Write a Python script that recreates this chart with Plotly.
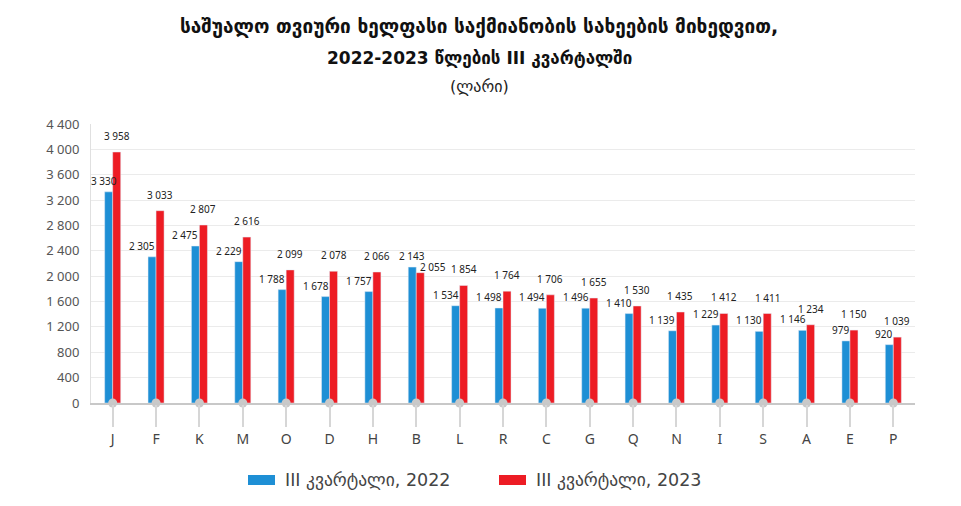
import plotly.graph_objects as go

categories = ["J", "F", "K", "M", "O", "D", "H", "B", "L", "R", "C", "G", "Q", "N", "I", "S", "A", "E", "P"]
values_2022 = [3330, 2305, 2475, 2229, 1788, 1678, 1757, 2143, 1534, 1498, 1494, 1496, 1410, 1139, 1229, 1130, 1146, 979, 920]
values_2023 = [3958, 3033, 2807, 2616, 2099, 2078, 2066, 2055, 1854, 1764, 1706, 1655, 1530, 1435, 1412, 1411, 1234, 1150, 1039]
y_ticks = [0, 400, 800, 1200, 1600, 2000, 2400, 2800, 3200, 3600, 4000, 4400]
series_names = ["III კვარტალი, 2022", "III კვარტალი, 2023"]
title_lines = ["საშუალო თვიური ხელფასი საქმიანობის სახეების მიხედვით,",
               "2022-2023 წლების III კვარტალში", "(ლარი)"]

BLUE = "#1e8fd5"
RED = "#ed1c24"
GRAY = "#c9c9c9"
OFF = 8  # page body margin
W, H = 961 - OFF, 506 - OFF
ML, MR, MT, MB = 91 - OFF, 46, 124 - OFF, 103
PW, PH = W - ML - MR, H - MT - MB


def px(x):
    return (x - OFF - ML) / PW


def py(y):
    return (H - MB - (y - OFF)) / PH


def fmt(v):
    return f"{v:,}".replace(",", " ")


fig = go.Figure()
fig.add_trace(go.Bar(x=categories, y=values_2022, name=series_names[0], marker_color=BLUE,
                     showlegend=False))
fig.add_trace(go.Bar(x=categories, y=values_2023, name=series_names[1], marker_color=RED,
                     showlegend=False))
# gray circles at baseline
fig.add_trace(go.Scatter(x=categories, y=[0] * len(categories), mode="markers",
                         marker=dict(color=GRAY, size=9), cliponaxis=False,
                         showlegend=False, hoverinfo="skip"))
# short horizontal dashes below ticks
fig.add_trace(go.Scatter(x=categories, y=[-345] * len(categories), mode="markers",
                         marker=dict(symbol="line-ew-open", size=25,
                                     line=dict(color="#d6d6d6", width=1.5)),
                         cliponaxis=False, showlegend=False, hoverinfo="skip"))

annotations = []
for i, c in enumerate(categories):
    b, r = values_2022[i], values_2023[i]
    if b > r:
        annotations.append(dict(x=c, y=b, xref="x", yref="y", text=fmt(b), showarrow=False,
                                xanchor="center", yanchor="bottom", xshift=-4, yshift=2,
                                font=dict(size=10, color="#222")))
        annotations.append(dict(x=c, y=r, xref="x", yref="y", text=fmt(r), showarrow=False,
                                xanchor="left", yanchor="middle", xshift=2, yshift=6,
                                font=dict(size=10, color="#222")))
    else:
        annotations.append(dict(x=c, y=b, xref="x", yref="y", text=fmt(b), showarrow=False,
                                xanchor="right", yanchor="bottom", xshift=(6 if i == 0 else 1), yshift=2,
                                font=dict(size=10, color="#222")))
        annotations.append(dict(x=c, y=r, xref="x", yref="y", text=fmt(r), showarrow=False,
                                xanchor="center", yanchor="bottom", xshift=4, yshift=7,
                                font=dict(size=10, color="#222")))

# title
TF = "DejaVu Sans"
annotations.append(dict(x=px(479), y=py(27), xref="paper", yref="paper", text="<b>" + title_lines[0] + "</b>",
                        showarrow=False, xanchor="center", yanchor="middle",
                        font=dict(size=19, color="#111", family=TF)))
annotations.append(dict(x=px(479), y=py(58), xref="paper", yref="paper", text="<b>" + title_lines[1] + "</b>",
                        showarrow=False, xanchor="center", yanchor="middle",
                        font=dict(size=17, color="#111", family=TF)))
annotations.append(dict(x=px(479), y=py(86), xref="paper", yref="paper", text=title_lines[2],
                        showarrow=False, xanchor="center", yanchor="middle",
                        font=dict(size=16, color="#222", family=TF)))

# legend (manual)
shapes = []
for (x0, col, name) in [(248, BLUE, series_names[0]), (499, RED, series_names[1])]:
    shapes.append(dict(type="rect", xref="paper", yref="paper", x0=px(x0), x1=px(x0 + 27),
                       y0=py(485), y1=py(475), fillcolor=col, line=dict(width=0)))
    annotations.append(dict(x=px(x0 + 35), y=py(480), xref="paper", yref="paper", text=name,
                            showarrow=False, xanchor="left", yanchor="middle",
                            font=dict(size=17.5, color="#444", family=TF)))

fig.update_layout(
    width=W, height=H,
    margin=dict(l=ML, r=MR, t=MT, b=MB, autoexpand=False),
    plot_bgcolor="white", paper_bgcolor="white",
    barmode="group", bargap=0.63, bargroupgap=0,
    separators=", ",
    font=dict(family="Noto Sans, DejaVu Sans", color="#444"),
    annotations=annotations, shapes=shapes,
    showlegend=False,
)
fig.update_xaxes(type="category", range=[-0.5, len(categories) - 0.5], showgrid=False,
                 showline=True, linecolor="#c8c8c8", linewidth=1.5,
                 ticks="outside", ticklen=22, tickwidth=1.5, tickcolor="#d6d6d6", automargin=False,
                 tickfont=dict(size=14, color="#444"), fixedrange=True)
fig.update_yaxes(range=[0, 4400], tickvals=y_ticks, tickformat=",d", showgrid=True, automargin=False,
                 gridcolor="#ebebeb", showline=True, linecolor="#e0e0e0", zeroline=False,
                 tickfont=dict(size=13, color="#555"), ticks="", ticklabelstandoff=8)

fig.write_html("out.html")
